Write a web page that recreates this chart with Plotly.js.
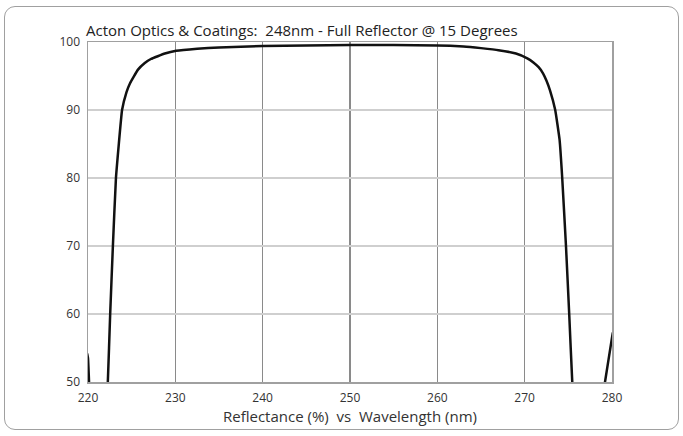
<!DOCTYPE html>
<html>
<head>
<meta charset="utf-8">
<script src="https://cdn.plot.ly/plotly-3.0.1.min.js"></script>
<style>
  html, body { margin: 0; padding: 0; background: #fff; }
  #wrap { position: relative; width: 683px; height: 436px; }
  #chart { position: absolute; left: 0; top: 0; width: 683px; height: 436px; }
  #frame { position: absolute; left: 4px; top: 6px; width: 673px; height: 422px;
           border: 1.5px solid #a0a0a0; border-radius: 11px; pointer-events: none; }
</style>
</head>
<body>
<div id="wrap">
  <div id="chart"></div>
  <div id="frame"></div>
</div>
<script>
// Data
const wavelength = [219.9, 220.0, 220.15, 221.0, 222.2, 222.27, 222.54, 222.85, 223.2, 223.9, 224.4, 224.8, 225.7, 226.5, 227.2, 228.8, 230.1, 232.5, 235, 240, 245, 250, 255, 260, 263, 265.0, 267.0, 269.0, 270.3, 271.0, 271.6, 272.1, 272.5, 272.9, 273.5, 274.0, 274.3, 274.73, 275.1, 275.45, 275.55, 277.0, 279.05, 279.2, 280.0, 280.1];
const reflectance = [54.2, 53.5, 49.0, null, 49.0, 50.0, 60.0, 70.0, 80.0, 90.0, 92.6, 93.9, 95.9, 96.9, 97.5, 98.3, 98.7, 99.0, 99.2, 99.4, 99.5, 99.55, 99.55, 99.5, 99.35, 99.1, 98.8, 98.3, 97.6, 97.0, 96.3, 95.4, 94.3, 92.9, 90.0, 85.6, 80.0, 70.0, 60.0, 50.0, 48.5, null, 48.5, 50.0, 56.5, 57.3];

const xTicks = [220, 230, 240, 250, 260, 270, 280];
const yTicks = [50, 60, 70, 80, 90, 100];

const chartTitle = 'Acton Optics &amp; Coatings:  248nm - Full Reflector @ 15 Degrees';
const xTitle = 'Reflectance (%)  vs  Wavelength (nm)';

const FONT = 'Open Sans, Liberation Sans, sans-serif';

const trace = {
  x: wavelength,
  y: reflectance,
  type: 'scatter',
  mode: 'lines',
  connectgaps: false,
  line: { color: '#111111', width: 2.5, shape: 'spline', smoothing: 0.3 },
  hoverinfo: 'x+y'
};

const layout = {
  width: 683,
  height: 436,
  margin: { l: 88, r: 71, t: 42, b: 54 },
  paper_bgcolor: '#ffffff',
  plot_bgcolor: '#ffffff',
  showlegend: false,
  font: { family: FONT, color: '#333333', size: 12 },
  title: {
    text: chartTitle,
    font: { family: FONT, size: 15, color: '#222222' },
    xref: 'container', x: 86 / 683, xanchor: 'left',
    yref: 'container', y: 1 - 31 / 436, yanchor: 'middle'
  },
  xaxis: {
    range: [220, 280],
    tickvals: xTicks,
    ticktext: xTicks.map(String),
    showgrid: true,
    gridcolor: '#8a8a8a',
    gridwidth: 1.5,
    zeroline: false,
    showline: true,
    mirror: true,
    linecolor: '#a0a0a0',
    linewidth: 1.5,
    ticks: '',
    ticklen: 0,
    ticklabelstandoff: 4,
    tickfont: { family: FONT, size: 12, color: '#333333' },
    title: { text: xTitle, font: { family: FONT, size: 15, color: '#333333' }, standoff: 4 }
  },
  yaxis: {
    range: [50, 100],
    tickvals: yTicks,
    ticktext: yTicks.map(String),
    showgrid: true,
    gridcolor: '#cfcfcf',
    gridwidth: 1.5,
    zeroline: false,
    showline: true,
    mirror: true,
    linecolor: '#a0a0a0',
    linewidth: 1.5,
    ticks: '',
    ticklen: 0,
    ticklabelstandoff: 4,
    tickfont: { family: FONT, size: 12, color: '#333333' }
  }
};

Plotly.newPlot('chart', [trace], layout, { displayModeBar: false, staticPlot: true });
</script>
</body>
</html>
